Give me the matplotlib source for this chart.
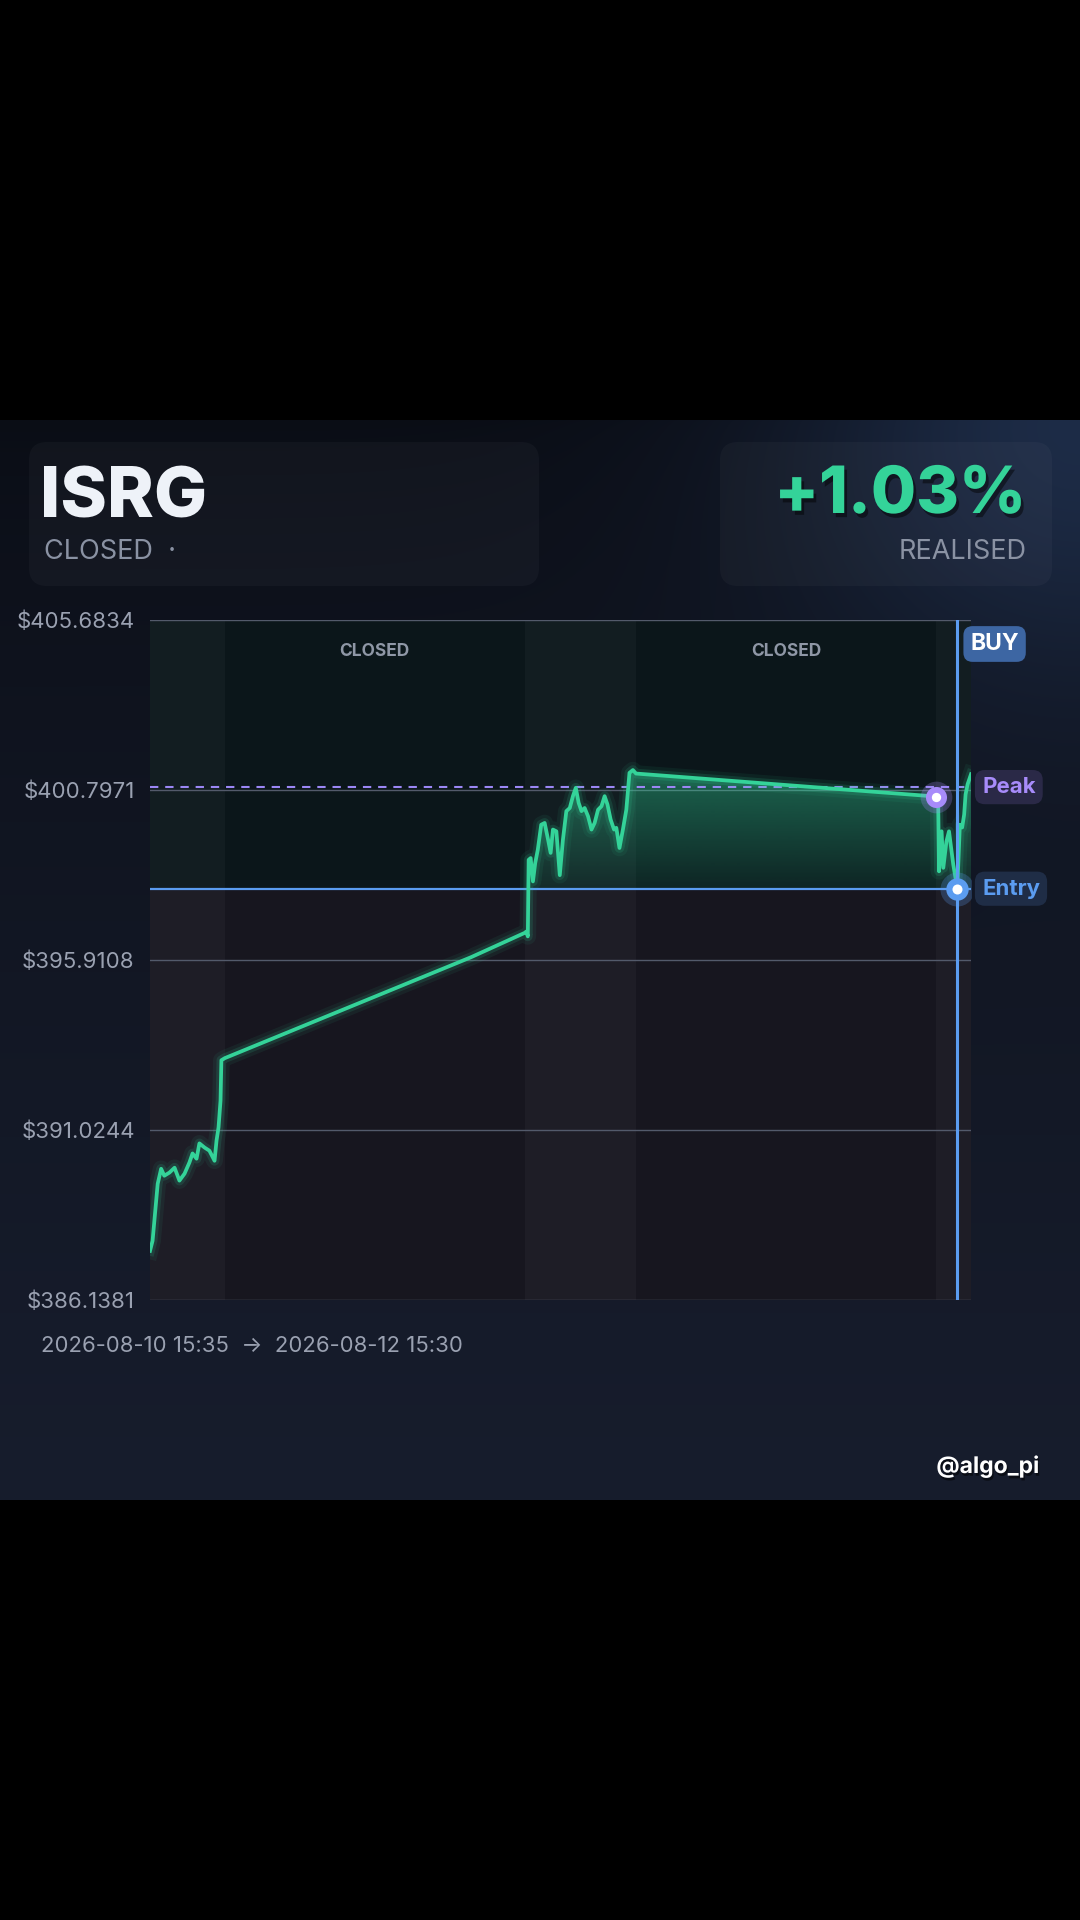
import numpy as np
import matplotlib
matplotlib.use("Agg")
import matplotlib.pyplot as plt
import matplotlib.patheffects as pe
from matplotlib.patches import FancyBboxPatch
from matplotlib.path import Path
from matplotlib.colors import to_rgb
from matplotlib.transforms import blended_transform_factory

plt.rcParams['font.family'] = ['Inter', 'DejaVu Sans']

W, H = 1080, 1920

ticker = "ISRG"
status = "CLOSED  \u00b7"
pnl_text = "+1.03%"
pnl_label = "REALISED"
date_range = "2026-08-10 15:35  \u2192  2026-08-12 15:30"
handle = "@algo_pi"

y_ticks = [386.1381, 391.0244, 395.9108, 400.7971, 405.6834]
entry_price = 397.96
peak_level = 400.88

# minutes since the first bar
sessions = [(0, 262), (1312, 1702), (2752, 2875)]
closed_spans = [(262, 1312), (1702, 2752)]

day1_t = [0, 9, 27, 39, 50, 68, 86, 103, 121, 138, 149, 163, 173, 191, 208, 226, 233, 240, 247, 250, 262]
day1_p = [387.55, 387.84, 389.48, 389.91, 389.71, 389.80, 389.94, 389.57, 389.77, 390.09,
          390.35, 390.20, 390.64, 390.52, 390.43, 390.14, 390.72, 391.10, 391.87, 393.03, 393.09]

overnight_t = [1124]
overnight_p = [395.99]

day2_t = [1312, 1318, 1323, 1326, 1333, 1341, 1349, 1358, 1370, 1382, 1394, 1403, 1411, 1423, 1435,
          1446, 1458, 1470, 1481, 1491, 1501, 1511, 1522, 1534, 1546, 1557, 1569, 1581, 1592, 1602,
          1613, 1625, 1633, 1644, 1656, 1668, 1679, 1691, 1702]
day2_p = [396.69, 396.73, 396.59, 398.79, 398.84, 398.17, 398.70, 399.08, 399.80, 399.85, 399.37,
          398.99, 399.66, 399.61, 398.35, 399.37, 400.19, 400.28, 400.62, 400.86, 400.43, 400.19,
          400.28, 400.04, 399.66, 399.85, 400.23, 400.33, 400.62, 400.38, 399.95, 399.66, 399.71,
          399.13, 399.66, 400.23, 401.29, 401.37, 401.27]

day3_t = [2752, 2760, 2763, 2772, 2778, 2789, 2798, 2807, 2813, 2827, 2836, 2844, 2851, 2856, 2863, 2875]
day3_p = [400.61, 400.52, 398.46, 399.61, 398.56, 399.32, 399.61, 399.03, 398.65, 397.96, 399.80,
          399.72, 400.09, 400.67, 400.96, 401.25]

peak_t, peak_p = 2752, 400.61
entry_t = 2827

GREEN = '#34d399'
BLUE = '#5b9cf0'
PURPLE = '#a78bfa'
MUTED = '#8a92a3'

t = np.array(day1_t + overnight_t + day2_t + day3_t, dtype=float)
p = np.array(day1_p + overnight_p + day2_p + day3_p)

fig = plt.figure(figsize=(W / 100, H / 100), dpi=100)
fig.patch.set_facecolor('black')

# ---- background panel ----
bg = fig.add_axes([0, 0, 1, 1])
bg.set_xlim(0, W)
bg.set_ylim(H, 0)
bg.axis('off')

yy, xx = np.mgrid[420:1500, 0:W].astype(float)
v = (yy - 420) / 1080
top_c = np.array([10, 13, 21]) / 255
bot_c = np.array([23, 29, 45]) / 255
img = top_c + (bot_c - top_c) * (v[..., None] ** 0.7)
glow_c = np.array([31, 47, 76]) / 255
d = np.hypot(xx - W, (yy - 420) * 1.1)
g = np.exp(-(d / 300) ** 2)[..., None]
img = img + (glow_c - img) * g * 0.9
bg.imshow(np.clip(img, 0, 1), extent=(0, W, 1500, 420), zorder=0, interpolation='bilinear')
bg.set_xlim(0, W)
bg.set_ylim(H, 0)

for x0, w in [(29, 510), (720, 332)]:
    bg.add_patch(FancyBboxPatch((x0, 442), w, 144, boxstyle='round,pad=0,rounding_size=18',
                                facecolor=(1, 1, 1, 0.03), edgecolor='none', zorder=1))

bg.text(40, 518, ticker, fontsize=51, fontweight='heavy', color='#eef2f8', va='baseline', zorder=2)
bg.text(44, 559, status, fontsize=19.5, color=MUTED, va='baseline', zorder=2)
bg.text(1026, 513, pnl_text, fontsize=47, fontweight='heavy', color=GREEN, ha='right', va='baseline',
        zorder=2, path_effects=[pe.withSimplePatchShadow(offset=(2, -3), shadow_rgbFace='black', alpha=0.45)])
bg.text(1027, 559, pnl_label, fontsize=19.5, color=MUTED, ha='right', va='baseline', zorder=2)

bg.text(41, 1352, date_range, fontsize=15.9, color='#9aa1b1', va='baseline', zorder=2)
bg.text(1039, 1473, handle, fontsize=16.5, fontweight='bold', color='white', ha='right', va='baseline',
        zorder=2, path_effects=[pe.withSimplePatchShadow(offset=(1, -2), shadow_rgbFace='black', alpha=0.5)])

# ---- chart ----
x0, x1, y0, y1 = 150, 971, 620, 1300
ax = fig.add_axes([x0 / W, 1 - y1 / H, (x1 - x0) / W, (y1 - y0) / H])
ax.patch.set_alpha(0)
for s in ax.spines.values():
    s.set_visible(False)

ax.axhspan(entry_price, y_ticks[-1], facecolor='#0b161a', zorder=0)
ax.axhspan(y_ticks[0], entry_price, facecolor='#17161f', zorder=0)
for a, b in sessions:
    ax.axvspan(a, b, facecolor='white', alpha=0.03, lw=0, zorder=0.5)

for yv in y_ticks:
    ax.axhline(yv, color='#535a6b', lw=1.0, zorder=1)

xf = blended_transform_factory(ax.transData, ax.transAxes)
for a, b in closed_spans:
    ax.text((a + b) / 2, 0.953, "CLOSED", transform=xf, ha='center', va='center',
            fontsize=12.5, fontweight='bold', color='#8f97a6', zorder=2)

# gradient fill between price and entry
poly = ax.fill_between(t, p, entry_price, where=p >= entry_price, interpolate=True,
                       facecolor='none', edgecolor='none')
clip = Path.make_compound_path(*poly.get_paths())
ramp = np.linspace(0.08, 0.42, 256)[:, None]
grad = np.zeros((256, 1, 4))
grad[..., :3] = to_rgb(GREEN)
grad[..., 3] = ramp
im = ax.imshow(grad, extent=(t[0], t[-1], entry_price, p.max()), origin='lower', aspect='auto',
               zorder=2, interpolation='bilinear')
im.set_clip_path(clip, ax.transData)

ax.axhline(peak_level, color='#9b87f5', lw=1.5, dashes=(4, 3.3), zorder=3)
ax.axhline(entry_price, color=BLUE, lw=1.6, zorder=3)

# price line with glow
ax.plot(t, p, color=GREEN, lw=12, alpha=0.07, solid_joinstyle='round', zorder=4)
ax.plot(t, p, color=GREEN, lw=7, alpha=0.14, solid_joinstyle='round', zorder=4)
ax.plot(t, p, color=GREEN, lw=2.7, solid_joinstyle='round', zorder=5)

ax.axvline(entry_t, color=BLUE, lw=2.2, zorder=6)

# markers
ax.scatter([peak_t], [peak_p], s=520, color=PURPLE, alpha=0.25, lw=0, zorder=7)
ax.scatter([peak_t], [peak_p], s=230, color=PURPLE, lw=0, zorder=8)
ax.scatter([peak_t], [peak_p], s=45, color='white', lw=0, zorder=9)
ax.scatter([entry_t], [entry_price], s=600, color=BLUE, alpha=0.25, lw=0, zorder=7)
ax.scatter([entry_t], [entry_price], s=260, color=BLUE, lw=0, zorder=8)
ax.scatter([entry_t], [entry_price], s=52, color='white', lw=0, zorder=9)

# labels on the right edge
yf = blended_transform_factory(ax.transAxes, ax.transData)
ax.annotate("Peak", xy=(1, peak_level), xycoords=yf, xytext=(11, 0), textcoords='offset pixels',
            ha='left', va='center', fontsize=16, fontweight='bold', color=PURPLE, zorder=10,
            annotation_clip=False,
            bbox=dict(boxstyle='round,pad=0.32,rounding_size=0.45', fc='#2a2947', ec='none'))
ax.annotate("Entry", xy=(1, entry_price), xycoords=yf, xytext=(11, 0), textcoords='offset pixels',
            ha='left', va='center', fontsize=16, fontweight='bold', color=BLUE, zorder=10,
            annotation_clip=False,
            bbox=dict(boxstyle='round,pad=0.32,rounding_size=0.45', fc='#1f2d46', ec='none'))
ax.annotate("BUY", xy=(entry_t, 1), xycoords=xf, xytext=(13, -24), textcoords='offset pixels',
            ha='left', va='center', fontsize=16.5, fontweight='bold', color='white', zorder=10,
            annotation_clip=False,
            bbox=dict(boxstyle='round,pad=0.3,rounding_size=0.4', fc='#3d66a3', ec='none'))

ax.set_xlim(0, 2875)
ax.set_ylim(y_ticks[0], y_ticks[-1])
ax.set_xticks([])
ax.set_yticks(y_ticks)
ax.set_yticklabels([f"${v:.4f}" for v in y_ticks])
ax.tick_params(axis='y', length=0, pad=11, labelsize=16, labelcolor='#9aa1b1')

fig.savefig('out.png', dpi=100, facecolor=fig.get_facecolor())
